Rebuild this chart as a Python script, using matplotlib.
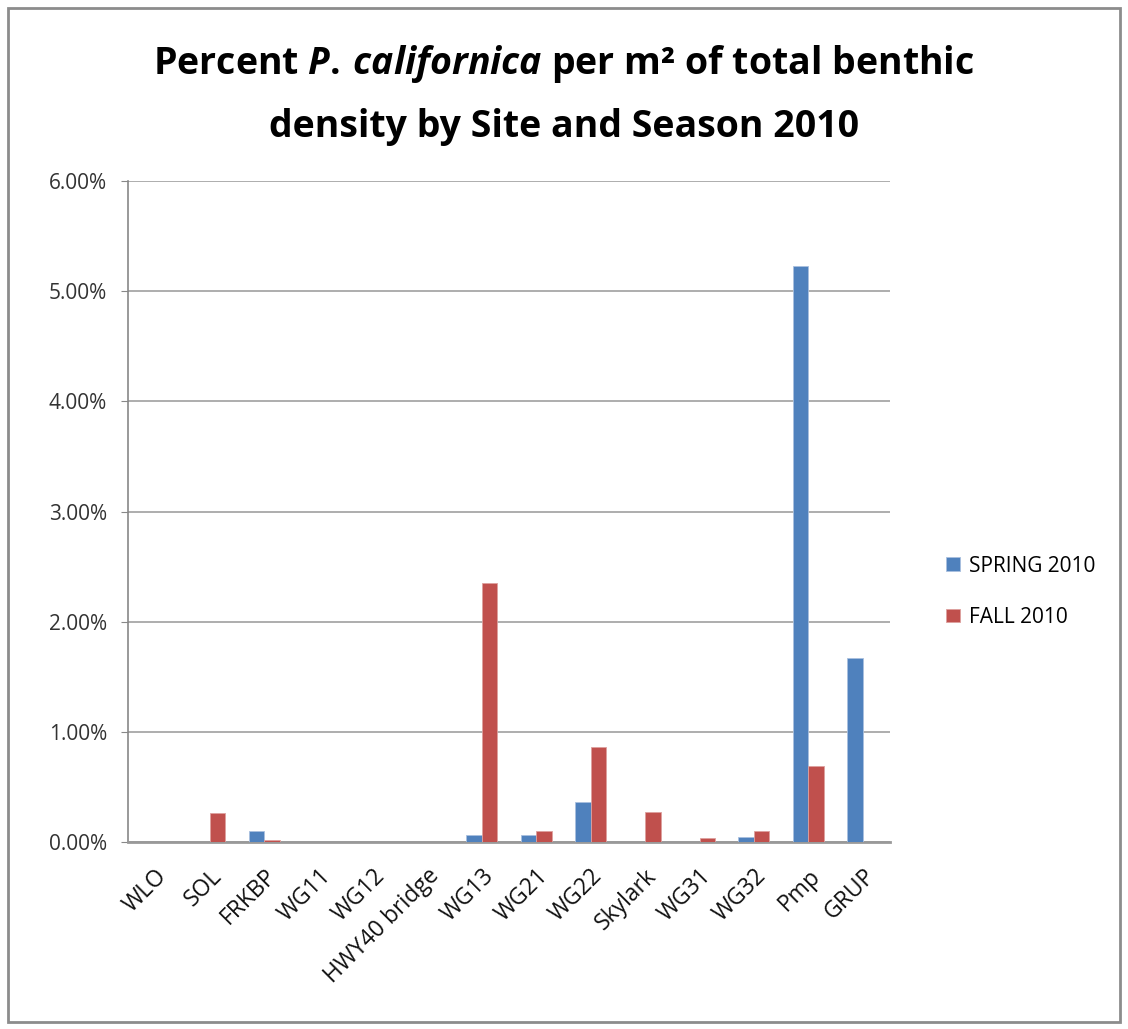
import numpy as np
import matplotlib.pyplot as plt
from matplotlib.patches import Rectangle

sites = ['WLO', 'SOL', 'FRKBP', 'WG11', 'WG12', 'HWY40 bridge', 'WG13', 'WG21',
         'WG22', 'Skylark', 'WG31', 'WG32', 'Pmp', 'GRUP']
spring = [0, 0, 0.10, 0, 0, 0, 0.065, 0.065, 0.36, 0, 0, 0.05, 5.23, 1.67]
fall = [0, 0.26, 0.02, 0, 0, 0, 2.35, 0.10, 0.86, 0.27, 0.04, 0.10, 0.69, 0]
yticks = [0, 1, 2, 3, 4, 5, 6]

plt.rcParams['font.family'] = ['Open Sans', 'DejaVu Sans']
plt.rcParams['mathtext.fontset'] = 'custom'
plt.rcParams['mathtext.it'] = 'Open Sans:italic:bold'
plt.rcParams['mathtext.rm'] = 'Open Sans:bold'
plt.rcParams['mathtext.bf'] = 'Open Sans:bold'

fig = plt.figure(figsize=(11.28, 10.29), dpi=100)
ax = fig.add_axes([0.1135, 0.1817, 0.6755, 0.6424])

x = np.arange(len(sites))
w = 0.286
ax.bar(x - w / 2, spring, w, color='#4F81BD', edgecolor='#A9C0DF', linewidth=0.6,
       label='SPRING 2010', zorder=3)
ax.bar(x + w / 2, fall, w, color='#C0504D', edgecolor='#DDA09E', linewidth=0.6,
       label='FALL 2010', zorder=3)

ax.set_xlim(-0.5, len(sites) - 0.5)
ax.set_ylim(0, 6)
ax.set_yticks(yticks)
ax.set_yticklabels(['%.2f%%' % v for v in yticks], fontsize=15, color='#333333')
ax.tick_params(axis='y', length=5, color='#888888', pad=10)
ax.grid(axis='y', color='#A0A0A0', linewidth=1.2, zorder=0)
ax.set_xticks(x)
ax.set_xticklabels(sites, rotation=45, ha='right', rotation_mode='anchor',
                   fontsize=16.5, color='#111111')
ax.tick_params(axis='x', length=0, pad=16)
for s in ['top', 'right']:
    ax.spines[s].set_visible(False)
ax.spines['left'].set_color('#888888')
ax.spines['bottom'].set_color('#999999')
ax.spines['bottom'].set_linewidth(2)
ax.spines['left'].set_linewidth(1.2)

fig.text(0.5, 0.938, r'Percent $\mathit{P.\,californica}$ per m² of total benthic',
         ha='center', va='center', fontsize=27, fontweight='bold')
fig.text(0.5, 0.877, 'density by Site and Season 2010',
         ha='center', va='center', fontsize=27, fontweight='bold')

ax.legend(loc='center left', bbox_to_anchor=(0.822, 0.425), bbox_transform=fig.transFigure,
          frameon=False, fontsize=15, handlelength=0.65, handleheight=0.65,
          labelspacing=1.45, handletextpad=0.45)

fig.patches.append(Rectangle((8 / 1128, 7 / 1029), 1112 / 1128, 1014 / 1029,
                             transform=fig.transFigure, fill=False,
                             edgecolor='#8C8C8C', linewidth=2))

fig.savefig('out.png', dpi=100)
